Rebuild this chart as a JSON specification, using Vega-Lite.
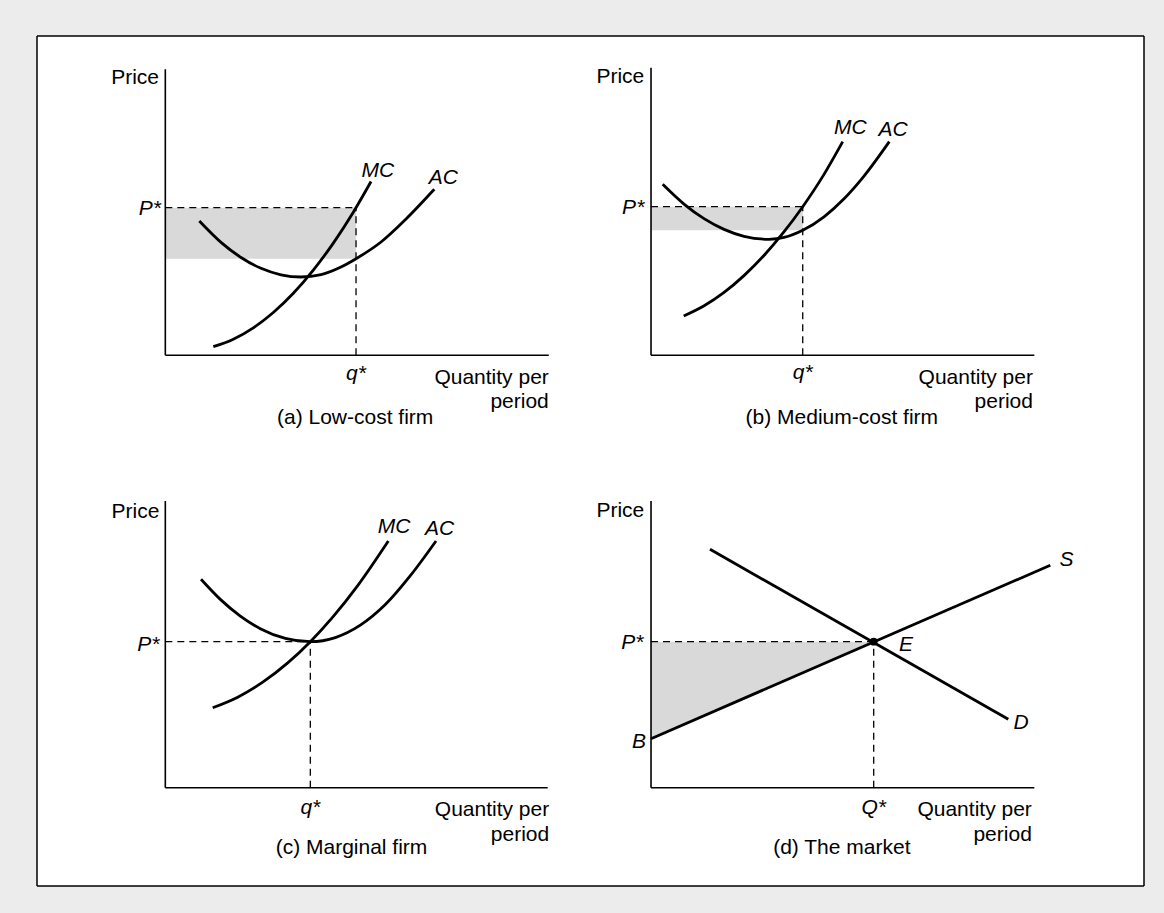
{
  "$schema": "https://vega.github.io/schema/vega-lite/v6.json",
  "background": "#ececec",
  "padding": {"left": 36, "top": 35, "right": 21, "bottom": 28},
  "config": {
    "view": {"stroke": null, "fill": "white"},
    "concat": {"spacing": 0},
    "text": {"font": "Liberation Sans", "fontSize": 21, "color": "#000000"}
  },
  "datasets": {
    "curves": [
      {"panel": "a", "series": "MC", "q": 12.52, "p": 3.00},
      {"panel": "a", "series": "MC", "q": 17.73, "p": 5.61},
      {"panel": "a", "series": "MC", "q": 22.95, "p": 9.58},
      {"panel": "a", "series": "MC", "q": 28.16, "p": 14.91},
      {"panel": "a", "series": "MC", "q": 33.38, "p": 21.60},
      {"panel": "a", "series": "MC", "q": 38.59, "p": 29.69},
      {"panel": "a", "series": "MC", "q": 43.81, "p": 39.09},
      {"panel": "a", "series": "MC", "q": 49.02, "p": 49.86},
      {"panel": "a", "series": "MC", "q": 53.64, "p": 60.56},
      {"panel": "a", "series": "AC", "q": 8.87, "p": 46.79},
      {"panel": "a", "series": "AC", "q": 14.52, "p": 39.34},
      {"panel": "a", "series": "AC", "q": 19.74, "p": 34.08},
      {"panel": "a", "series": "AC", "q": 24.95, "p": 30.31},
      {"panel": "a", "series": "AC", "q": 30.17, "p": 28.05},
      {"panel": "a", "series": "AC", "q": 35.38, "p": 27.28},
      {"panel": "a", "series": "AC", "q": 40.60, "p": 28.12},
      {"panel": "a", "series": "AC", "q": 45.81, "p": 30.77},
      {"panel": "a", "series": "AC", "q": 49.73, "p": 33.66},
      {"panel": "a", "series": "AC", "q": 56.25, "p": 39.48},
      {"panel": "a", "series": "AC", "q": 62.77, "p": 47.49},
      {"panel": "a", "series": "AC", "q": 70.14, "p": 57.84},
      {"panel": "b", "series": "MC", "q": 8.53, "p": 13.69},
      {"panel": "b", "series": "MC", "q": 13.74, "p": 17.16},
      {"panel": "b", "series": "MC", "q": 18.96, "p": 21.81},
      {"panel": "b", "series": "MC", "q": 24.17, "p": 27.67},
      {"panel": "b", "series": "MC", "q": 29.39, "p": 34.67},
      {"panel": "b", "series": "MC", "q": 34.60, "p": 42.89},
      {"panel": "b", "series": "MC", "q": 39.56, "p": 51.78},
      {"panel": "b", "series": "MC", "q": 45.03, "p": 62.86},
      {"panel": "b", "series": "MC", "q": 49.99, "p": 74.43},
      {"panel": "b", "series": "AC", "q": 3.05, "p": 59.58},
      {"panel": "b", "series": "AC", "q": 8.60, "p": 52.68},
      {"panel": "b", "series": "AC", "q": 13.82, "p": 47.60},
      {"panel": "b", "series": "AC", "q": 19.04, "p": 43.87},
      {"panel": "b", "series": "AC", "q": 24.25, "p": 41.46},
      {"panel": "b", "series": "AC", "q": 30.77, "p": 40.42},
      {"panel": "b", "series": "AC", "q": 34.68, "p": 41.05},
      {"panel": "b", "series": "AC", "q": 39.56, "p": 43.55},
      {"panel": "b", "series": "AC", "q": 45.11, "p": 48.26},
      {"panel": "b", "series": "AC", "q": 50.33, "p": 54.53},
      {"panel": "b", "series": "AC", "q": 55.54, "p": 62.44},
      {"panel": "b", "series": "AC", "q": 62.14, "p": 74.43},
      {"panel": "c", "series": "AC", "q": 9.31, "p": 72.61},
      {"panel": "c", "series": "AC", "q": 14.34, "p": 65.61},
      {"panel": "c", "series": "AC", "q": 19.56, "p": 59.79},
      {"panel": "c", "series": "AC", "q": 24.77, "p": 55.42},
      {"panel": "c", "series": "AC", "q": 31.29, "p": 52.02},
      {"panel": "c", "series": "AC", "q": 37.81, "p": 50.87},
      {"panel": "c", "series": "AC", "q": 44.33, "p": 52.30},
      {"panel": "c", "series": "AC", "q": 50.85, "p": 56.62},
      {"panel": "c", "series": "AC", "q": 57.37, "p": 63.80},
      {"panel": "c", "series": "AC", "q": 63.89, "p": 73.87},
      {"panel": "c", "series": "AC", "q": 70.59, "p": 85.96},
      {"panel": "c", "series": "MC", "q": 12.36, "p": 27.87},
      {"panel": "c", "series": "MC", "q": 18.88, "p": 31.55},
      {"panel": "c", "series": "MC", "q": 25.40, "p": 36.76},
      {"panel": "c", "series": "MC", "q": 31.92, "p": 43.48},
      {"panel": "c", "series": "MC", "q": 37.81, "p": 50.87},
      {"panel": "c", "series": "MC", "q": 43.65, "p": 59.43},
      {"panel": "c", "series": "MC", "q": 50.17, "p": 70.42},
      {"panel": "c", "series": "MC", "q": 58.15, "p": 85.96},
      {"panel": "d", "series": "S", "q": 0, "p": 17.07},
      {"panel": "d", "series": "S", "q": 104.12, "p": 77.49},
      {"panel": "d", "series": "D", "q": 15.38, "p": 83.07},
      {"panel": "d", "series": "D", "q": 93.17, "p": 23.83}
    ],
    "guides": [
      {"panel": "a", "q": 0, "p": 51.43, "q2": 49.73, "p2": 51.43},
      {"panel": "a", "q": 49.73, "p": 0, "q2": 49.73, "p2": 51.43},
      {"panel": "b", "q": 0, "p": 51.78, "q2": 39.56, "p2": 51.78},
      {"panel": "b", "q": 39.56, "p": 0, "q2": 39.56, "p2": 51.78},
      {"panel": "c", "q": 0, "p": 50.87, "q2": 37.81, "p2": 50.87},
      {"panel": "c", "q": 37.81, "p": 0, "q2": 37.81, "p2": 50.87},
      {"panel": "d", "q": 0, "p": 50.87, "q2": 58.07, "p2": 50.87},
      {"panel": "d", "q": 58.07, "p": 0, "q2": 58.07, "p2": 50.87}
    ],
    "shade": [
      {"panel": "a", "q": 0, "q2": 49.73, "p": 33.66, "p2": 51.43},
      {"panel": "b", "q": 0, "q2": 39.56, "p": 43.55, "p2": 51.78}
    ],
    "surplus": [
      {"panel": "d", "q": 0, "p": 17.07, "p2": 50.87},
      {"panel": "d", "q": 58.07, "p": 50.87, "p2": 50.87}
    ],
    "equilibrium": [
      {"panel": "d", "q": 58.07, "p": 50.87}
    ],
    "axes": [
      {"panel": "a", "q": 0, "p": 0, "q2": 0, "p2": 99.7},
      {"panel": "a", "q": 0, "p": 0, "q2": 100.0, "p2": 0},
      {"panel": "b", "q": 0, "p": 0, "q2": 0, "p2": 100.2},
      {"panel": "b", "q": 0, "p": 0, "q2": 99.95, "p2": 0},
      {"panel": "c", "q": 0, "p": 0, "q2": 0, "p2": 99.9},
      {"panel": "c", "q": 0, "p": 0, "q2": 99.7, "p2": 0},
      {"panel": "d", "q": 0, "p": 0, "q2": 0, "p2": 99.9},
      {"panel": "d", "q": 0, "p": 0, "q2": 99.95, "p2": 0}
    ],
    "frame": [
      {"panel": "a", "q": -33.46, "p": 111.25, "q2": 111.0, "p2": 111.25},
      {"panel": "a", "q": -33.46, "p": -36.83, "q2": -33.46, "p2": 111.25},
      {"panel": "b", "q": -15.65, "p": 111.25, "q2": 128.55, "p2": 111.25},
      {"panel": "b", "q": 128.55, "p": -36.83, "q2": 128.55, "p2": 111.25},
      {"panel": "c", "q": -33.46, "p": -34.25, "q2": 111.0, "p2": -34.25},
      {"panel": "c", "q": -33.46, "p": -34.25, "q2": -33.46, "p2": 113.83},
      {"panel": "d", "q": -15.65, "p": -34.25, "q2": 128.55, "p2": -34.25},
      {"panel": "d", "q": 128.55, "p": -34.25, "q2": 128.55, "p2": 113.83}
    ],
    "labels": [
      {"panel": "a", "role": "title", "text": "Price", "q": -1.64, "p": 94.43},
      {"panel": "a", "role": "title", "text": "Quantity per", "q": 100.0, "p": -10.0},
      {"panel": "a", "role": "title", "text": "period", "q": 100.0, "p": -18.26},
      {"panel": "a", "role": "caption", "text": "(a) Low-cost firm", "q": 49.5, "p": -24.04},
      {"panel": "a", "role": "level", "text": "P*", "q": -1.12, "p": 48.8},
      {"panel": "a", "role": "mark", "text": "q*", "q": 49.73, "p": -8.6},
      {"panel": "a", "role": "mark", "text": "MC", "q": 55.4, "p": 62.2},
      {"panel": "a", "role": "mark", "text": "AC", "q": 72.5, "p": 59.8},
      {"panel": "b", "role": "title", "text": "Price", "q": -1.75, "p": 94.88},
      {"panel": "b", "role": "title", "text": "Quantity per", "q": 99.6, "p": -10.0},
      {"panel": "b", "role": "title", "text": "period", "q": 99.6, "p": -18.26},
      {"panel": "b", "role": "caption", "text": "(b) Medium-cost firm", "q": 49.75, "p": -24.04},
      {"panel": "b", "role": "level", "text": "P*", "q": -1.75, "p": 49.2},
      {"panel": "b", "role": "mark", "text": "q*", "q": 39.56, "p": -8.26},
      {"panel": "b", "role": "mark", "text": "MC", "q": 51.98, "p": 77.21},
      {"panel": "b", "role": "mark", "text": "AC", "q": 63.10, "p": 76.41},
      {"panel": "c", "role": "title", "text": "Price", "q": -1.56, "p": 94.08},
      {"panel": "c", "role": "title", "text": "Quantity per", "q": 100.1, "p": -9.86},
      {"panel": "c", "role": "title", "text": "period", "q": 100.1, "p": -18.57},
      {"panel": "c", "role": "caption", "text": "(c) Marginal firm", "q": 48.55, "p": -23.2},
      {"panel": "c", "role": "level", "text": "P*", "q": -1.56, "p": 47.5},
      {"panel": "c", "role": "mark", "text": "q*", "q": 37.81, "p": -9.16},
      {"panel": "c", "role": "mark", "text": "MC", "q": 59.63, "p": 88.85},
      {"panel": "c", "role": "mark", "text": "AC", "q": 71.55, "p": 88.05},
      {"panel": "d", "role": "title", "text": "Price", "q": -1.75, "p": 94.32},
      {"panel": "d", "role": "title", "text": "Quantity per", "q": 99.3, "p": -9.86},
      {"panel": "d", "role": "title", "text": "period", "q": 99.3, "p": -18.57},
      {"panel": "d", "role": "caption", "text": "(d) The market", "q": 49.75, "p": -23.2},
      {"panel": "d", "role": "level", "text": "P*", "q": -2.0, "p": 48.22},
      {"panel": "d", "role": "level", "text": "B", "q": -1.3, "p": 13.94},
      {"panel": "d", "role": "mark", "text": "Q*", "q": 58.07, "p": -9.16},
      {"panel": "d", "role": "mark", "text": "S", "q": 108.34, "p": 77.25},
      {"panel": "d", "role": "mark", "text": "D", "q": 96.48, "p": 20.35},
      {"panel": "d", "role": "mark", "text": "E", "q": 66.49, "p": 47.63}
    ]
  },
  "columns": 2,
  "spacing": 0,
  "bounds": "flush",
  "concat": [
    {
      "width": 554, "height": 425,
      "encoding": {
        "x": {"field": "q", "type": "quantitative", "scale": {"domain": [-33.46, 111.0], "nice": false, "zero": false}, "axis": null},
        "y": {"field": "p", "type": "quantitative", "scale": {"domain": [-36.83, 111.25], "nice": false, "zero": false}, "axis": null}
      },
      "layer": [
        {"data": {"name": "shade"}, "transform": [{"filter": "datum.panel == 'a'"}], "mark": {"type": "rect", "color": "#d9d9d9"}, "encoding": {"x2": {"field": "q2"}, "y2": {"field": "p2"}}},
        {"data": {"name": "guides"}, "transform": [{"filter": "datum.panel == 'a'"}], "mark": {"type": "rule", "color": "#000000", "strokeWidth": 1.3, "strokeDash": [7, 5]}, "encoding": {"x2": {"field": "q2"}, "y2": {"field": "p2"}}},
        {"data": {"name": "axes"}, "transform": [{"filter": "datum.panel == 'a'"}], "mark": {"type": "rule", "color": "#000000", "strokeWidth": 1.6}, "encoding": {"x2": {"field": "q2"}, "y2": {"field": "p2"}}},
        {"data": {"name": "curves"}, "transform": [{"filter": "datum.panel == 'a'"}], "mark": {"type": "line", "color": "#000000", "strokeWidth": 2.8, "interpolate": "monotone"}, "encoding": {"detail": {"field": "series"}}},
        {"data": {"name": "frame"}, "transform": [{"filter": "datum.panel == 'a'"}], "mark": {"type": "rule", "color": "#000000", "strokeWidth": 1.5}, "encoding": {"x2": {"field": "q2"}, "y2": {"field": "p2"}}},
        {"data": {"name": "labels"}, "transform": [{"filter": "datum.panel == 'a' && datum.role == 'title'"}], "mark": {"type": "text", "align": "right", "baseline": "alphabetic"}, "encoding": {"text": {"field": "text"}}},
        {"data": {"name": "labels"}, "transform": [{"filter": "datum.panel == 'a' && datum.role == 'caption'"}], "mark": {"type": "text", "align": "center", "baseline": "alphabetic"}, "encoding": {"text": {"field": "text"}}},
        {"data": {"name": "labels"}, "transform": [{"filter": "datum.panel == 'a' && datum.role == 'level'"}], "mark": {"type": "text", "align": "right", "baseline": "alphabetic", "fontStyle": "italic"}, "encoding": {"text": {"field": "text"}}},
        {"data": {"name": "labels"}, "transform": [{"filter": "datum.panel == 'a' && datum.role == 'mark'"}], "mark": {"type": "text", "align": "center", "baseline": "alphabetic", "fontStyle": "italic"}, "encoding": {"text": {"field": "text"}}}
      ]
    },
    {
      "width": 553, "height": 425,
      "encoding": {
        "x": {"field": "q", "type": "quantitative", "scale": {"domain": [-15.65, 128.55], "nice": false, "zero": false}, "axis": null},
        "y": {"field": "p", "type": "quantitative", "scale": {"domain": [-36.83, 111.25], "nice": false, "zero": false}, "axis": null}
      },
      "layer": [
        {"data": {"name": "shade"}, "transform": [{"filter": "datum.panel == 'b'"}], "mark": {"type": "rect", "color": "#d9d9d9"}, "encoding": {"x2": {"field": "q2"}, "y2": {"field": "p2"}}},
        {"data": {"name": "guides"}, "transform": [{"filter": "datum.panel == 'b'"}], "mark": {"type": "rule", "color": "#000000", "strokeWidth": 1.3, "strokeDash": [7, 5]}, "encoding": {"x2": {"field": "q2"}, "y2": {"field": "p2"}}},
        {"data": {"name": "axes"}, "transform": [{"filter": "datum.panel == 'b'"}], "mark": {"type": "rule", "color": "#000000", "strokeWidth": 1.6}, "encoding": {"x2": {"field": "q2"}, "y2": {"field": "p2"}}},
        {"data": {"name": "curves"}, "transform": [{"filter": "datum.panel == 'b'"}], "mark": {"type": "line", "color": "#000000", "strokeWidth": 2.8, "interpolate": "monotone"}, "encoding": {"detail": {"field": "series"}}},
        {"data": {"name": "frame"}, "transform": [{"filter": "datum.panel == 'b'"}], "mark": {"type": "rule", "color": "#000000", "strokeWidth": 1.5}, "encoding": {"x2": {"field": "q2"}, "y2": {"field": "p2"}}},
        {"data": {"name": "labels"}, "transform": [{"filter": "datum.panel == 'b' && datum.role == 'title'"}], "mark": {"type": "text", "align": "right", "baseline": "alphabetic"}, "encoding": {"text": {"field": "text"}}},
        {"data": {"name": "labels"}, "transform": [{"filter": "datum.panel == 'b' && datum.role == 'caption'"}], "mark": {"type": "text", "align": "center", "baseline": "alphabetic"}, "encoding": {"text": {"field": "text"}}},
        {"data": {"name": "labels"}, "transform": [{"filter": "datum.panel == 'b' && datum.role == 'level'"}], "mark": {"type": "text", "align": "right", "baseline": "alphabetic", "fontStyle": "italic"}, "encoding": {"text": {"field": "text"}}},
        {"data": {"name": "labels"}, "transform": [{"filter": "datum.panel == 'b' && datum.role == 'mark'"}], "mark": {"type": "text", "align": "center", "baseline": "alphabetic", "fontStyle": "italic"}, "encoding": {"text": {"field": "text"}}}
      ]
    },
    {
      "width": 554, "height": 425,
      "encoding": {
        "x": {"field": "q", "type": "quantitative", "scale": {"domain": [-33.46, 111.0], "nice": false, "zero": false}, "axis": null},
        "y": {"field": "p", "type": "quantitative", "scale": {"domain": [-34.25, 113.83], "nice": false, "zero": false}, "axis": null}
      },
      "layer": [
        {"data": {"name": "guides"}, "transform": [{"filter": "datum.panel == 'c'"}], "mark": {"type": "rule", "color": "#000000", "strokeWidth": 1.3, "strokeDash": [7, 5]}, "encoding": {"x2": {"field": "q2"}, "y2": {"field": "p2"}}},
        {"data": {"name": "axes"}, "transform": [{"filter": "datum.panel == 'c'"}], "mark": {"type": "rule", "color": "#000000", "strokeWidth": 1.6}, "encoding": {"x2": {"field": "q2"}, "y2": {"field": "p2"}}},
        {"data": {"name": "curves"}, "transform": [{"filter": "datum.panel == 'c'"}], "mark": {"type": "line", "color": "#000000", "strokeWidth": 2.8, "interpolate": "monotone"}, "encoding": {"detail": {"field": "series"}}},
        {"data": {"name": "frame"}, "transform": [{"filter": "datum.panel == 'c'"}], "mark": {"type": "rule", "color": "#000000", "strokeWidth": 1.5}, "encoding": {"x2": {"field": "q2"}, "y2": {"field": "p2"}}},
        {"data": {"name": "labels"}, "transform": [{"filter": "datum.panel == 'c' && datum.role == 'title'"}], "mark": {"type": "text", "align": "right", "baseline": "alphabetic"}, "encoding": {"text": {"field": "text"}}},
        {"data": {"name": "labels"}, "transform": [{"filter": "datum.panel == 'c' && datum.role == 'caption'"}], "mark": {"type": "text", "align": "center", "baseline": "alphabetic"}, "encoding": {"text": {"field": "text"}}},
        {"data": {"name": "labels"}, "transform": [{"filter": "datum.panel == 'c' && datum.role == 'level'"}], "mark": {"type": "text", "align": "right", "baseline": "alphabetic", "fontStyle": "italic"}, "encoding": {"text": {"field": "text"}}},
        {"data": {"name": "labels"}, "transform": [{"filter": "datum.panel == 'c' && datum.role == 'mark'"}], "mark": {"type": "text", "align": "center", "baseline": "alphabetic", "fontStyle": "italic"}, "encoding": {"text": {"field": "text"}}}
      ]
    },
    {
      "width": 553, "height": 425,
      "encoding": {
        "x": {"field": "q", "type": "quantitative", "scale": {"domain": [-15.65, 128.55], "nice": false, "zero": false}, "axis": null},
        "y": {"field": "p", "type": "quantitative", "scale": {"domain": [-34.25, 113.83], "nice": false, "zero": false}, "axis": null}
      },
      "layer": [
        {"data": {"name": "surplus"}, "mark": {"type": "area", "color": "#d9d9d9"}, "encoding": {"y2": {"field": "p2"}}},
        {"data": {"name": "guides"}, "transform": [{"filter": "datum.panel == 'd'"}], "mark": {"type": "rule", "color": "#000000", "strokeWidth": 1.3, "strokeDash": [7, 5]}, "encoding": {"x2": {"field": "q2"}, "y2": {"field": "p2"}}},
        {"data": {"name": "axes"}, "transform": [{"filter": "datum.panel == 'd'"}], "mark": {"type": "rule", "color": "#000000", "strokeWidth": 1.6}, "encoding": {"x2": {"field": "q2"}, "y2": {"field": "p2"}}},
        {"data": {"name": "curves"}, "transform": [{"filter": "datum.panel == 'd'"}], "mark": {"type": "line", "color": "#000000", "strokeWidth": 2.8}, "encoding": {"detail": {"field": "series"}}},
        {"data": {"name": "equilibrium"}, "mark": {"type": "point", "filled": true, "color": "#000000", "size": 60, "opacity": 1}, "encoding": {}},
        {"data": {"name": "frame"}, "transform": [{"filter": "datum.panel == 'd'"}], "mark": {"type": "rule", "color": "#000000", "strokeWidth": 1.5}, "encoding": {"x2": {"field": "q2"}, "y2": {"field": "p2"}}},
        {"data": {"name": "labels"}, "transform": [{"filter": "datum.panel == 'd' && datum.role == 'title'"}], "mark": {"type": "text", "align": "right", "baseline": "alphabetic"}, "encoding": {"text": {"field": "text"}}},
        {"data": {"name": "labels"}, "transform": [{"filter": "datum.panel == 'd' && datum.role == 'caption'"}], "mark": {"type": "text", "align": "center", "baseline": "alphabetic"}, "encoding": {"text": {"field": "text"}}},
        {"data": {"name": "labels"}, "transform": [{"filter": "datum.panel == 'd' && datum.role == 'level'"}], "mark": {"type": "text", "align": "right", "baseline": "alphabetic", "fontStyle": "italic"}, "encoding": {"text": {"field": "text"}}},
        {"data": {"name": "labels"}, "transform": [{"filter": "datum.panel == 'd' && datum.role == 'mark'"}], "mark": {"type": "text", "align": "center", "baseline": "alphabetic", "fontStyle": "italic"}, "encoding": {"text": {"field": "text"}}}
      ]
    }
  ]
}
